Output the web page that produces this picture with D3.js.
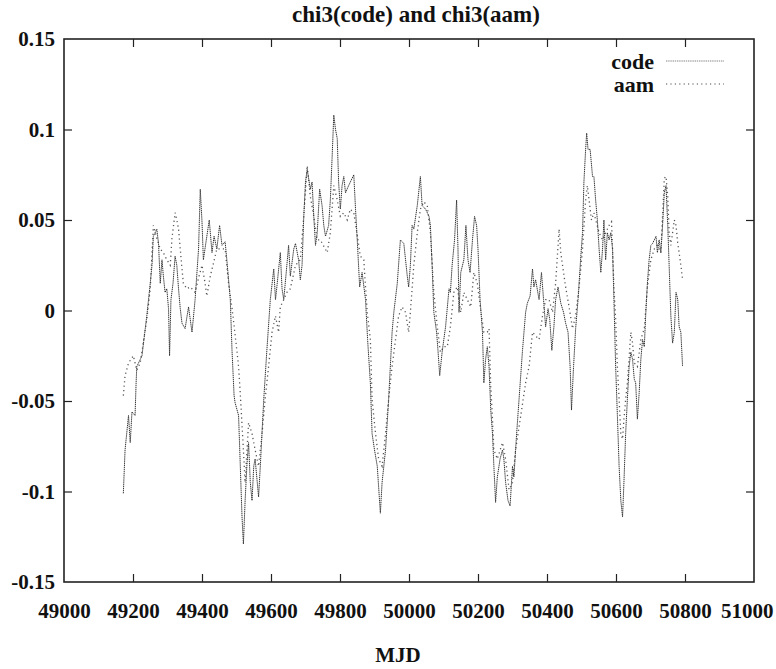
<!DOCTYPE html>
<html>
<head>
<meta charset="utf-8">
<script src="https://cdn.jsdelivr.net/npm/d3@7/dist/d3.min.js"></script>
<style>
  html, body { margin: 0; padding: 0; background: #fff; }
  svg { display: block; }
</style>
</head>
<body>
<svg id="chart" width="776" height="669"></svg>
<script>
const chartTitle = "chi3(code) and chi3(aam)";
const xLabel = "MJD";
const seriesNames = ["code", "aam"];
const xTicks = [49000, 49200, 49400, 49600, 49800, 50000, 50200, 50400, 50600, 50800, 51000];
const yTicks = [-0.15, -0.1, -0.05, 0, 0.05, 0.1, 0.15];
const yTickLabels = ["-0.15", "-0.1", "-0.05", "0", "0.05", "0.1", "0.15"];

// [MJD, chi3]
const codeSeries = [
[49172,-0.101],[49177,-0.077],[49187,-0.058],[49192,-0.073],[49197,-0.056],[49206,-0.058],[49209,-0.040],[49211,-0.031],[49226,-0.025],[49240,-0.003],
[49250,0.015],[49255,0.025],[49259,0.041],[49269,0.045],[49274,0.037],[49279,0.015],[49284,0.028],[49288,0.019],[49293,0.010],[49298,0.012],
[49303,0.001],[49306,-0.025],[49310,0.006],[49316,0.015],[49322,0.030],[49327,0.025],[49332,0.012],[49337,0.001],[49342,-0.007],[49351,-0.010],
[49361,0.002],[49371,-0.012],[49380,0.006],[49390,0.034],[49395,0.067],[49400,0.049],[49404,0.028],[49414,0.041],[49421,0.050],[49429,0.032],
[49435,0.041],[49443,0.034],[49451,0.047],[49458,0.036],[49467,0.038],[49472,0.028],[49482,0.006],[49487,-0.022],[49493,-0.047],[49496,-0.051],
[49506,-0.058],[49511,-0.086],[49516,-0.114],[49520,-0.129],[49525,-0.105],[49530,-0.086],[49535,-0.073],[49540,-0.095],[49545,-0.105],[49550,-0.086],
[49554,-0.082],[49564,-0.103],[49569,-0.086],[49579,-0.049],[49588,-0.022],[49598,0.006],[49608,0.023],[49613,0.006],[49617,0.013],[49627,0.032],
[49632,0.012],[49637,0.006],[49646,0.025],[49651,0.036],[49656,0.019],[49666,0.034],[49671,0.037],[49680,0.028],[49685,0.017],[49690,0.025],
[49695,0.052],[49700,0.071],[49705,0.078],[49714,0.067],[49719,0.071],[49724,0.052],[49729,0.036],[49734,0.043],[49741,0.067],[49748,0.058],
[49753,0.047],[49758,0.041],[49767,0.047],[49772,0.061],[49777,0.084],[49782,0.108],[49787,0.100],[49792,0.095],[49796,0.071],[49801,0.056],
[49806,0.069],[49811,0.074],[49816,0.065],[49825,0.069],[49835,0.073],[49840,0.075],[49845,0.056],[49850,0.039],[49857,0.013],[49864,0.021],
[49874,0.006],[49880,-0.016],[49888,-0.040],[49893,-0.068],[49900,-0.077],[49908,-0.086],[49917,-0.112],[49922,-0.095],[49932,-0.077],[49941,-0.049],
[49951,-0.012],[49956,-0.001],[49966,0.015],[49975,0.039],[49985,0.037],[49995,0.019],[49999,0.013],[50004,0.025],[50009,0.047],[50014,0.045],
[50024,0.058],[50033,0.074],[50038,0.058],[50048,0.056],[50058,0.052],[50062,0.047],[50067,0.025],[50072,-0.001],[50080,-0.012],[50084,-0.022],
[50089,-0.036],[50096,-0.023],[50106,-0.009],[50116,0.012],[50120,0.010],[50125,0.025],[50132,0.039],[50138,0.061],[50142,0.034],[50145,-0.001],
[50150,0.021],[50159,0.028],[50165,0.047],[50171,0.028],[50177,0.021],[50184,0.039],[50190,0.052],[50196,0.047],[50200,0.034],[50206,0.006],
[50213,-0.012],[50217,-0.040],[50222,-0.027],[50227,-0.020],[50232,-0.031],[50237,-0.055],[50242,-0.068],[50246,-0.086],[50251,-0.106],[50256,-0.092],
[50264,-0.082],[50271,-0.077],[50275,-0.082],[50280,-0.095],[50287,-0.105],[50293,-0.108],[50300,-0.086],[50304,-0.092],[50312,-0.068],[50319,-0.049],
[50329,-0.022],[50338,-0.001],[50343,0.004],[50351,0.008],[50358,0.023],[50362,0.013],[50367,0.017],[50377,0.006],[50384,0.021],[50390,0.006],
[50396,-0.009],[50403,0.001],[50408,-0.005],[50414,-0.022],[50420,-0.009],[50425,0.006],[50432,0.013],[50440,0.004],[50448,-0.001],[50454,-0.007],
[50461,-0.012],[50467,-0.031],[50471,-0.055],[50477,-0.031],[50483,-0.010],[50490,0.006],[50498,0.030],[50503,0.043],[50507,0.071],[50512,0.089],
[50515,0.098],[50519,0.089],[50525,0.089],[50532,0.074],[50536,0.074],[50541,0.061],[50546,0.050],[50551,0.034],[50556,0.021],[50561,0.034],
[50565,0.050],[50570,0.028],[50575,0.043],[50580,0.039],[50585,0.043],[50590,0.034],[50594,0.006],[50599,-0.031],[50604,-0.058],[50609,-0.086],
[50614,-0.105],[50619,-0.114],[50623,-0.095],[50628,-0.068],[50633,-0.049],[50638,-0.031],[50643,-0.023],[50648,-0.027],[50653,-0.038],[50657,-0.040],
[50662,-0.060],[50667,-0.046],[50672,-0.027],[50677,-0.016],[50682,-0.020],[50686,-0.003],[50691,0.015],[50696,0.028],[50701,0.036],[50706,0.037],
[50711,0.039],[50716,0.041],[50720,0.032],[50725,0.039],[50730,0.032],[50735,0.047],[50740,0.065],[50745,0.069],[50750,0.047],[50754,0.025],
[50759,-0.003],[50764,-0.018],[50769,-0.012],[50774,0.010],[50779,0.006],[50783,-0.009],[50788,-0.012],[50793,-0.031]
];

const aamSeries = [
[49172,-0.047],[49177,-0.036],[49187,-0.029],[49201,-0.025],[49211,-0.033],[49221,-0.029],[49240,-0.005],[49250,0.012],[49259,0.047],[49269,0.040],
[49279,0.034],[49288,0.032],[49298,0.028],[49308,0.025],[49313,0.040],[49322,0.054],[49327,0.050],[49332,0.045],[49337,0.034],[49342,0.023],
[49346,0.015],[49356,0.012],[49366,0.013],[49380,0.010],[49390,0.018],[49400,0.025],[49409,0.015],[49414,0.008],[49424,0.019],[49433,0.026],
[49443,0.034],[49458,0.034],[49467,0.034],[49477,0.015],[49488,0.000],[49501,-0.022],[49506,-0.031],[49511,-0.046],[49520,-0.077],[49525,-0.095],
[49535,-0.062],[49545,-0.068],[49554,-0.077],[49564,-0.086],[49574,-0.068],[49583,-0.049],[49593,-0.031],[49603,-0.012],[49613,-0.003],[49622,-0.012],
[49627,0.002],[49637,0.006],[49646,0.010],[49656,0.012],[49671,0.025],[49685,0.028],[49695,0.052],[49705,0.080],[49714,0.063],[49724,0.052],
[49734,0.039],[49743,0.039],[49763,0.032],[49772,0.043],[49782,0.069],[49792,0.061],[49801,0.052],[49811,0.054],[49821,0.050],[49830,0.056],
[49840,0.054],[49859,0.030],[49869,0.028],[49874,0.013],[49879,-0.001],[49888,-0.016],[49893,-0.049],[49903,-0.068],[49912,-0.082],[49922,-0.086],
[49932,-0.068],[49941,-0.049],[49951,-0.031],[49961,-0.016],[49970,-0.003],[49980,0.002],[49990,-0.001],[49999,-0.012],[50004,-0.001],[50014,0.025],
[50024,0.043],[50033,0.056],[50043,0.060],[50053,0.058],[50062,0.043],[50072,0.010],[50082,-0.009],[50091,-0.023],[50101,-0.020],[50111,-0.020],
[50120,-0.009],[50130,0.010],[50140,0.013],[50150,-0.001],[50159,0.010],[50169,0.006],[50179,0.002],[50188,0.021],[50198,0.015],[50208,0.000],
[50217,-0.012],[50227,-0.012],[50232,-0.010],[50237,-0.042],[50242,-0.060],[50246,-0.077],[50256,-0.082],[50271,-0.073],[50280,-0.082],[50290,-0.099],
[50300,-0.095],[50309,-0.077],[50324,-0.058],[50338,-0.040],[50348,-0.031],[50358,-0.012],[50367,-0.014],[50377,-0.016],[50387,-0.003],[50396,0.006],
[50406,0.006],[50416,-0.001],[50425,0.015],[50435,0.045],[50440,0.032],[50445,0.025],[50454,0.013],[50464,0.002],[50474,-0.010],[50483,-0.003],
[50493,0.013],[50503,0.034],[50512,0.061],[50517,0.069],[50522,0.061],[50529,0.050],[50536,0.054],[50551,0.043],[50561,0.039],[50580,0.047],
[50587,0.049],[50590,0.034],[50594,0.013],[50599,-0.005],[50604,-0.031],[50609,-0.049],[50614,-0.068],[50619,-0.071],[50623,-0.060],[50628,-0.049],
[50633,-0.040],[50643,-0.012],[50648,-0.018],[50653,-0.029],[50662,-0.031],[50672,-0.016],[50682,-0.010],[50691,0.013],[50701,0.028],[50711,0.034],
[50720,0.036],[50730,0.032],[50740,0.073],[50745,0.074],[50750,0.063],[50754,0.043],[50759,0.036],[50769,0.050],[50774,0.047],[50779,0.037],
[50783,0.032],[50788,0.025],[50793,0.017]
];

(function () {
const FONT = '"Liberation Serif", "Times New Roman", Times, "DejaVu Serif", serif';
const svg = d3.select("#chart");
const W = 776, H = 669;
const m = { left: 64, right: 22, top: 39, bottom: 87 };
const x0 = m.left, x1 = W - m.right, y0 = m.top, y1 = H - m.bottom;

svg.append("rect").attr("width", W).attr("height", H).attr("fill", "#fff");

const x = d3.scaleLinear().domain([49000, 51000]).range([x0, x1]);
const y = d3.scaleLinear().domain([-0.15, 0.15]).range([y1, y0]);

const tickLen = 8;
const fmtY = d3.scaleOrdinal().domain(yTicks).range(yTickLabels);

const gBottom = svg.append("g").attr("transform", `translate(0,${y1})`)
  .call(d3.axisBottom(x).tickValues(xTicks).tickFormat(d3.format("d")).tickSizeInner(-tickLen).tickSizeOuter(0).tickPadding(20));
const gTop = svg.append("g").attr("transform", `translate(0,${y0})`)
  .call(d3.axisTop(x).tickValues(xTicks).tickFormat("").tickSizeInner(-tickLen).tickSizeOuter(0));
const gLeft = svg.append("g").attr("transform", `translate(${x0},0)`)
  .call(d3.axisLeft(y).tickValues(yTicks).tickFormat(d => fmtY(d)).tickSizeInner(-tickLen).tickSizeOuter(0).tickPadding(9));
const gRight = svg.append("g").attr("transform", `translate(${x1},0)`)
  .call(d3.axisRight(y).tickValues(yTicks).tickFormat("").tickSizeInner(-tickLen).tickSizeOuter(0));

[gBottom, gTop, gLeft, gRight].forEach(g => {
  g.attr("font-family", null).attr("font-size", null);
  g.select(".domain").remove();
  g.selectAll(".tick line").attr("stroke", "#222").attr("stroke-width", 1.2);
  g.selectAll("text").style("font-family", FONT).style("font-weight", "bold")
    .style("font-size", "21px").attr("fill", "#111");
});
gBottom.selectAll("text").attr("dy", "0.75em");
gBottom.selectAll(".tick").filter(d => d === 49000 || d === 51000).select("line").remove();
gTop.selectAll(".tick").filter(d => d === 49000 || d === 51000).select("line").remove();
gLeft.selectAll(".tick").filter(d => d === -0.15 || d === 0.15).select("line").remove();
gRight.selectAll(".tick").filter(d => d === -0.15 || d === 0.15).select("line").remove();
// keep the last label inside the window
gBottom.selectAll(".tick").filter(d => d === 51000).select("text")
  .style("text-anchor", "end").attr("x", W - 3 - x1);

svg.append("rect").attr("x", x0).attr("y", y0).attr("width", x1 - x0).attr("height", y1 - y0)
  .attr("fill", "none").attr("stroke", "#222").attr("stroke-width", 1.6);

const line = d3.line().x(d => x(d[0])).y(d => y(d[1]));

svg.append("path").datum(aamSeries).attr("d", line)
  .attr("fill", "none").attr("stroke", "#555").attr("stroke-width", 1.3)
  .attr("stroke-dasharray", "1.2,3.2");

svg.append("path").datum(codeSeries).attr("d", line)
  .attr("fill", "none").attr("stroke", "#333").attr("stroke-width", 1)
  .attr("stroke-dasharray", "1.4,0.7");

function txt(xp, yp, s, size, anchor) {
  return svg.append("text").attr("x", xp).attr("y", yp).attr("text-anchor", anchor)
    .attr("dominant-baseline", "central").attr("fill", "#111")
    .style("font-family", FONT).style("font-weight", "bold").style("font-size", size + "px").text(s);
}

txt(416, 14, chartTitle, 23, "middle");
txt(398, 655, xLabel, 21, "middle");

const legY = [61, 84];
const legStyles = [
  { stroke: "#777", width: 0.9, dash: "1.4,0.8" },
  { stroke: "#888", width: 1.3, dash: "1.2,3.2" }
];
seriesNames.forEach((name, i) => {
  txt(654, legY[i], name, 22, "end");
  svg.append("line").attr("x1", 666).attr("x2", 724).attr("y1", legY[i]).attr("y2", legY[i])
    .attr("stroke", legStyles[i].stroke).attr("stroke-width", legStyles[i].width)
    .attr("stroke-dasharray", legStyles[i].dash);
});
})();
</script>
</body>
</html>
